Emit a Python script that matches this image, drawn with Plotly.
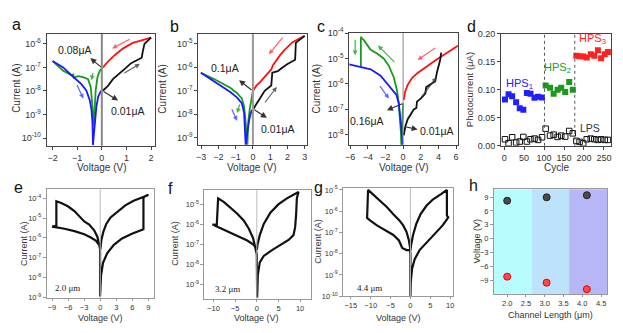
import plotly.graph_objects as go

W, H = 623, 333
FONT = "Liberation Sans, Arial, sans-serif"

# ---------------- data ----------------
# panel a  (V, log10 I)
a_red_V = [0.05, 0.25, 0.52, 0.85, 1.26, 1.66, 2.0]
a_red_logI = [-7.0, -6.75, -6.48, -6.2, -5.96, -5.82, -5.73]
a_blk_V = [0.05, 0.25, 0.45, 0.65, 0.92, 1.19, 1.46, 1.62, 1.66, 1.73, 2.0]
a_blk_logI = [-7.98, -7.78, -7.5, -7.3, -7.07, -6.82, -6.68, -6.59, -6.34, -6.0, -5.73]
a_grn_V = [0.01, -0.09, -0.18, -0.25, -0.29, -0.33, -0.38, -0.45, -0.56, -0.76, -0.96, -1.14, -1.16, -1.23, -1.57, -2.0]
a_grn_logI = [-7.02, -7.16, -7.43, -7.98, -8.8, -9.48, -8.66, -7.84, -7.5, -7.41, -7.37, -7.43, -7.3, -7.33, -7.14, -6.73]
a_blu_V = [-2.0, -1.77, -1.57, -1.3, -1.03, -0.83, -0.63, -0.49, -0.42, -0.38, -0.36, -0.29, -0.22, -0.15, -0.06, 0.05]
a_blu_logI = [-6.73, -6.86, -7.0, -7.27, -7.5, -7.71, -7.98, -8.39, -8.8, -9.35, -10.3, -9.35, -8.66, -8.25, -8.05, -7.95]

# panel b
b_red_V = [0.02, 0.21, 0.4, 0.78, 1.06, 1.16, 1.34, 1.57, 1.82, 2.29, 2.99]
b_red_logI = [-6.98, -6.77, -6.64, -6.32, -6.09, -5.91, -5.72, -5.48, -5.27, -4.93, -4.66]
b_blk_V = [0.02, 0.21, 0.44, 0.68, 1.06, 1.12, 1.44, 1.63, 2.0, 2.44, 2.48, 2.99]
b_blk_logI = [-7.77, -7.53, -7.28, -7.0, -6.77, -6.23, -6.16, -6.05, -5.86, -5.68, -4.96, -4.66]
b_grn_V = [0.0, -0.09, -0.19, -0.27, -0.32, -0.42, -0.51, -0.64, -0.93, -1.31, -1.69, -2.25, -3.01]
b_grn_logI = [-7.0, -7.32, -7.8, -8.34, -9.3, -8.34, -7.66, -7.32, -7.09, -6.87, -6.71, -6.5, -6.23]
b_blu_V = [-3.01, -2.44, -1.88, -1.31, -0.93, -0.64, -0.51, -0.42, -0.32, -0.21, -0.09, 0.0]
b_blu_logI = [-6.23, -6.5, -6.77, -7.05, -7.28, -7.53, -7.94, -9.3, -8.75, -8.21, -7.87, -7.77]

# panel c
c_red_V = [0.07, 0.22, 0.52, 1.01, 1.57, 2.32, 3.07, 4.01, 4.95, 5.7, 6.2]
c_red_logI = [-6.63, -6.32, -6.04, -5.77, -5.59, -5.39, -5.22, -4.99, -4.77, -4.61, -4.5]
c_blk_V = [0.07, 0.26, 0.52, 0.82, 1.2, 1.5, 1.57, 2.02, 2.51, 2.62, 3.15, 3.64, 3.82, 4.09, 4.2, 4.31]
c_blk_logI = [-8.03, -7.67, -7.39, -7.2, -7.01, -6.95, -6.7, -6.57, -6.38, -6.13, -6.0, -5.9, -5.56, -5.24, -5.05, -4.77]
c_grn_V = [0.0, -0.1, -0.2, -0.25, -0.35, -0.5, -0.7, -1.05, -1.6, -2.2, -3.0, -3.7, -4.4, -4.75, -4.78, -4.78]
c_grn_logI = [-6.76, -7.5, -8.4, -7.9, -7.3, -6.75, -6.25, -5.75, -5.3, -5.0, -4.8, -4.65, -4.3, -4.17, -4.2, -5.35]
c_blu_V = [-6.1, -5.0, -3.67, -2.55, -1.61, -1.05, -0.75, -0.49, -0.3, -0.19, -0.07]
c_blu_logI = [-5.23, -5.33, -5.43, -5.68, -6.06, -6.28, -6.44, -6.76, -7.27, -7.77, -8.4]

# panel d
d_hps1_cycle = [2, 11, 20, 30, 39, 48, 57, 66, 76, 85, 95]
d_hps1_uA = [0.083, 0.092, 0.0887, 0.078, 0.067, 0.0645, 0.0945, 0.0933, 0.086, 0.0876, 0.0864]
d_hps2_cycle = [104, 115, 124, 134, 143, 153, 163, 172]
d_hps2_uA = [0.1077, 0.1037, 0.0933, 0.1003, 0.1037, 0.0962, 0.114, 0.1003]
d_hps3_cycle = [181, 189, 198, 207, 217, 226, 235, 243, 252, 260]
d_hps3_uA = [0.1613, 0.160, 0.1596, 0.1579, 0.1637, 0.1613, 0.171, 0.1567, 0.1637, 0.168]
d_lps_cycle = d_hps1_cycle + d_hps2_cycle + d_hps3_cycle
d_lps_uA = [0.0117, 0.0047, 0.0153, 0.0059, 0.0076, 0.0159, 0.0076, 0.0117, 0.0129, 0.0106, 0.0153,
            0.0306, 0.0182, 0.020, 0.0159, 0.0182, 0.0165, 0.0265, 0.0223,
            0.0088, 0.007, 0.0047, 0.0117, 0.0129, 0.0117, 0.0106, 0.0117, 0.0106, 0.0106]
d_dividers = [101, 177]

# panel e
e_V = [0.03, -0.21, -0.83, -1.75, -2.98, -4.82, -6.66, -8.19, -8.99, -8.19, -8.19,
       -7.27, -6.04, -4.82, -3.77, -2.98, -2.06, -1.13, -0.52, -0.09, -0.03, -0.03,
       0.15, 0.52, 1.32, 2.55, 4.08, 5.92, 7.15, 8.07, 8.07, 8.25, 9.0,
       7.76, 6.23, 4.69, 3.16, 1.93, 1.13, 0.58, 0.21, 0.03]
e_logI = [-6.56, -6.35, -6.14, -5.98, -5.82, -5.66, -5.54, -5.46, -5.43, -5.4, -4.16,
          -4.24, -4.41, -4.65, -4.97, -5.17, -5.33, -5.62, -5.95, -6.44, -6.56, -8.95,
          -7.9, -7.25, -6.76, -6.35, -6.03, -5.79, -5.67, -5.57, -4.0, -3.92, -3.84,
          -3.97, -4.13, -4.36, -4.68, -4.97, -5.3, -5.7, -6.11, -6.56]

# panel f
f_V = [0.0, -0.69, -2.21, -4.12, -6.41, -8.32, -9.47, -10.23, -9.24, -8.93,
       -7.56, -6.03, -4.5, -2.98, -1.83, -0.84, -0.23, 0.0, 0.08,
       0.23, 0.69, 1.6, 3.51, 5.42, 7.33, 8.47, 8.85, 9.08, 9.24, 9.62,
       8.47, 6.95, 5.04, 3.13, 1.6, 0.69, 0.23, 0.0]
f_logI = [-7.3, -7.03, -6.82, -6.63, -6.39, -6.18, -6.07, -6.02, -6.04, -4.71,
          -4.9, -5.19, -5.48, -5.83, -6.23, -6.71, -7.19, -7.51, -9.67,
          -8.55, -7.91, -7.59, -7.3, -7.03, -6.79, -6.55, -6.15, -5.51, -4.71, -4.39,
          -4.52, -4.71, -5.0, -5.43, -5.99, -6.55, -6.95, -7.3]

# panel g
g_V = [0.0, -0.99, -2.07, -2.89, -4.3, -6.36, -8.43, -10.08, -10.9, -10.66,
       -9.26, -7.6, -5.95, -4.3, -2.89, -1.82, -0.99, -0.41, -0.08, 0.0, 0.0,
       0.08, 0.41, 1.07, 2.31, 3.97, 6.03, 8.1, 9.09, 9.5, 9.17, 9.17,
       7.69, 5.62, 3.97, 2.56, 1.49, 0.66, 0.17, 0.0]
g_logI = [-7.83, -7.83, -7.73, -7.38, -7.12, -6.89, -6.67, -6.44, -6.32, -5.0,
          -5.23, -5.5, -5.8, -6.14, -6.41, -6.67, -6.97, -7.35, -7.73, -8.1, -10.0,
          -9.32, -8.71, -8.26, -7.83, -7.5, -7.12, -6.67, -6.41, -6.29, -6.2, -5.0,
          -5.2, -5.45, -5.76, -6.14, -6.59, -7.12, -7.58, -7.83]

# panel h
h_len = [2.0, 3.05, 4.12]
h_set_V = [8.2, 8.95, 9.4]
h_reset_V = [-8.2, -9.5, -10.9]
h_band_edges = [1.65, 2.65, 3.65, 4.66]
h_band_colors = ["#b8fdfd", "#bce3fb", "#b7b7f7"]

# tick labels
log_tickvals = [1e-10, 1e-9, 1e-8, 1e-7, 1e-6, 1e-5, 1e-4, 1e-3]
log_ticktext = ["10<sup>-10</sup>", "10<sup>-9</sup>", "10<sup>-8</sup>", "10<sup>-7</sup>",
                "10<sup>-6</sup>", "10<sup>-5</sup>", "10<sup>-4</sup>", "10<sup>-3</sup>"]


def pw(v):
    return [10 ** x for x in v]


# ---------------- layout helpers ----------------
def dx(l, r):
    return [l / W, r / W]


def dy(t, b):
    return [1 - b / H, 1 - t / H]


def px(x, y):
    return x / W, 1 - y / H


fig = go.Figure()

boxes = {
    1: (43, 152, 28, 144),
    2: (196, 305, 28, 143),
    3: (348, 458, 27, 143),
    4: (501, 612, 28, 144),
    5: (43, 151, 189, 302),
    6: (202, 309, 190, 303),
    7: (342, 453, 188, 300),
    8: (494, 608, 189, 298),
}
xranges = {1: [-2.24, 2.15], 2: [-3.15, 3.1], 3: [-6.1, 6.25], 4: [-8, 268],
           5: [-10, 10], 6: [-12.1, 12.4], 7: [-16.9, 10.8], 8: [1.65, 4.66]}
yranges = {1: [-10.33, -5.58], 2: [-9.3, -4.58], 3: [-8.4, -4.0], 4: [0, 0.2],
           5: [-9.03, -3.55], 6: [-9.75, -4.3], 7: [-10, -4.92], 8: [-12, 10.7]}
xticks = {1: [-2, -1, 0, 1, 2], 2: [-3, -2, -1, 0, 1, 2, 3], 3: [-6, -4, -2, 0, 2, 4, 6],
          4: [0, 50, 100, 150, 200, 250], 5: [-9, -6, -3, 0, 3, 6, 9], 6: [-10, -5, 0, 5, 10],
          7: [-15, -10, -5, 0, 5, 10], 8: [2.0, 2.5, 3.0, 3.5, 4.0, 4.5]}

lay = {}
for i in range(1, 9):
    l, r, t, b = boxes[i]
    xs = "" if i == 1 else str(i)
    top = i <= 4
    fs = 9 if top else 7.5
    lc = "#444" if top else "#999"
    xa = dict(domain=dx(l, r), anchor="y" + xs, range=xranges[i], tickvals=xticks[i],
              showline=True, mirror=True, linecolor=lc, linewidth=1, ticks="outside",
              ticklen=3 if top else 2, tickcolor=lc, showgrid=False, zeroline=False,
              tickfont=dict(size=fs, color="#333", family=FONT))
    if i == 8:
        xa["ticktext"] = ["2.0", "2.5", "3.0", "3.5", "4.0", "4.5"]
    ya = dict(domain=dy(t, b), anchor="x" + xs, range=yranges[i], showline=True, mirror=True,
              linecolor=lc, linewidth=1, ticks="outside", ticklen=3, tickcolor=lc,
              showgrid=False, zeroline=False, tickfont=dict(size=fs, color="#333", family=FONT))
    if i in (4, 8):
        ya["type"] = "linear"
        if i == 4:
            ya["tickvals"] = [0, 0.05, 0.1, 0.15, 0.2]
            ya["ticktext"] = ["0.00", "0.05", "0.10", "0.15", "0.20"]
        else:
            ya["tickvals"] = [-9, -6, -3, 0, 3, 6, 9]
    else:
        ya["type"] = "log"
        ya["tickvals"] = log_tickvals
        ya["ticktext"] = log_ticktext
    lay["xaxis" + xs] = xa
    lay["yaxis" + xs] = ya

fig.update_layout(**lay)

RED, BLK, GRN, BLU = "#ff1010", "#111111", "#1a9a1a", "#1a1aff"


def line(xs_, ys_, color, ax, width=1.8):
    fig.add_trace(go.Scatter(x=xs_, y=pw(ys_), mode="lines", line=dict(color=color, width=width),
                             xaxis="x" + ax, yaxis="y" + ax, showlegend=False, hoverinfo="skip"))


# V=0 reference lines
for ax, col, w in (("", "#888", 2), ("2", "#999", 2), ("3", "#888", 1), ("5", "#bbb", 1),
                   ("6", "#bbb", 1), ("7", "#bbb", 1)):
    fig.add_shape(type="line", xref="x" + ax, yref="y" + ax + " domain", x0=0, x1=0, y0=0, y1=1,
                  line=dict(color=col, width=w))

# a
line(a_red_V, a_red_logI, RED, "")
line(a_blk_V, a_blk_logI, BLK, "")
line(a_grn_V, a_grn_logI, GRN, "")
line(a_blu_V, a_blu_logI, BLU, "")
# b
line(b_red_V, b_red_logI, RED, "2")
line(b_blk_V, b_blk_logI, BLK, "2")
line(b_grn_V, b_grn_logI, GRN, "2")
line(b_blu_V, b_blu_logI, BLU, "2")
# c
line(c_red_V, c_red_logI, RED, "3")
line(c_blk_V, c_blk_logI, BLK, "3")
line(c_grn_V, c_grn_logI, GRN, "3")
line(c_blu_V, c_blu_logI, BLU, "3")
# e f g
line(e_V, e_logI, BLK, "5", 2.2)
line(f_V, f_logI, BLK, "6", 2.2)
line(g_V, g_logI, BLK, "7", 2.2)

# d
for xv in d_dividers:
    fig.add_shape(type="line", xref="x4", yref="y4 domain", x0=xv, x1=xv, y0=0, y1=1,
                  line=dict(color="#555", width=1, dash="dot"))
for xs_, ys_, col in ((d_hps1_cycle, d_hps1_uA, "#2020ff"), (d_hps2_cycle, d_hps2_uA, "#1a9a1a"),
                      (d_hps3_cycle, d_hps3_uA, "#ff2020")):
    fig.add_trace(go.Scatter(x=xs_, y=ys_, mode="markers", xaxis="x4", yaxis="y4",
                             marker=dict(symbol="square", size=6, color=col), showlegend=False))
fig.add_trace(go.Scatter(x=d_lps_cycle, y=d_lps_uA, mode="markers", xaxis="x4", yaxis="y4",
                         marker=dict(symbol="square-open", size=5.5, color="#111",
                                     line=dict(width=1)), showlegend=False))

# h
for k in range(3):
    fig.add_shape(type="rect", xref="x8", yref="y8 domain", x0=h_band_edges[k], x1=h_band_edges[k + 1],
                  y0=0, y1=1, fillcolor=h_band_colors[k], line=dict(width=0), layer="below")
fig.add_trace(go.Scatter(x=h_len, y=h_set_V, mode="markers", xaxis="x8", yaxis="y8",
                         marker=dict(size=7, color="#4a4a4a", line=dict(color="#222", width=1)),
                         showlegend=False))
fig.add_trace(go.Scatter(x=h_len, y=h_reset_V, mode="markers", xaxis="x8", yaxis="y8",
                         marker=dict(size=7, color="#ff4848", line=dict(color="#d00", width=1)),
                         showlegend=False))

ann = []


def text(x, y, s, size=10, color="#222", angle=0, family=FONT, **kw):
    X, Y = px(x, y)
    d = dict(x=X, y=Y, xref="paper", yref="paper", text=s, showarrow=False, textangle=angle,
             font=dict(size=size, color=color, family=family), xanchor="center", yanchor="middle")
    d.update(kw)
    ann.append(d)


def arrow(tail, head, color, width=1.2, size=1.0):
    hx, hy = px(*head)
    ann.append(dict(x=hx, y=hy, ax=tail[0] - head[0], ay=tail[1] - head[1], xref="paper",
                    yref="paper", text="", showarrow=True, arrowhead=2, arrowsize=size,
                    arrowwidth=width, arrowcolor=color))


# panel letters
for s, x, y in (("a", 13, 18), ("b", 172, 20), ("c", 320, 20), ("d", 471, 20),
                ("e", 15, 187), ("f", 168, 188), ("g", 317, 187), ("h", 473, 185)):
    text(x, y, s, size=16, color="#111")

# axis titles
for x, y in ((13, 84), (160, 85), (315, 85)):
    text(x, y, "Current (A)", size=10, color="#333", angle=-90)
text(470, 86, "Photocurrent (μA)", size=9.5, color="#333", angle=-90)
for x in (98, 250, 403):
    text(x, 166, "Voltage (V)", size=10, color="#333")
text(557, 166, "Cycle", size=10, color="#333")
for x, y in ((20, 245), (173, 245), (317, 243)):
    text(x, y, "Current (A)", size=9, color="#333", angle=-90)
text(477, 243, "Voltage (V)", size=9, color="#333", angle=-90)
for x in (97, 255, 398):
    text(x, 323, "Voltage (V)", size=9, color="#333")
text(551, 320, "Channel Length (μm)", size=9, color="#333")

# value labels
text(72, 45, "0.08μA", size=10.5)
text(125, 108, "0.01μA", size=10.5)
text(223, 63, "0.1μA", size=10.5)
text(276, 127, "0.01μA", size=10.5)
text(366, 118, "0.16μA", size=10.5)
text(436, 129, "0.01μA", size=10.5)
SER = "Liberation Serif, Times New Roman, serif"
text(64, 292, "2.0 μm", size=9, family=SER)
text(225, 293, "3.2 μm", size=9, family=SER)
text(368, 292, "4.4 μm", size=9, family=SER)

# HPS labels
text(520, 80, "HPS<sub>1</sub>", size=11, color="#2020ff")
text(558, 63, "HPS<sub>2</sub>", size=11, color="#1a9a1a")
text(593, 33, "HPS<sub>3</sub>", size=11, color="#ff2020")
text(591, 126, "LPS", size=10.5, color="#333")

# pointer arrows
DG = "#333"
arrow((99, 63), (87, 53), DG)
arrow((99, 87), (115, 97), DG)
arrow((251, 87), (237, 76), DG)
arrow((251, 106), (265, 115), DG)
arrow((403, 100), (386, 107), DG)
arrow((403, 124), (417, 127), DG)
# direction arrows
LR, LK, LG, LB = "rgba(255,60,60,0.8)", "rgba(60,60,60,0.8)", "rgba(30,160,30,0.8)", "rgba(60,60,255,0.8)"
arrow((128, 33), (109, 43), LR, 1.2, 0.8)
arrow((120, 69), (137, 59), LK, 1.2, 0.8)
arrow((90, 67), (88, 76), LG, 1.2, 0.8)
arrow((73, 80), (80, 95), LB, 1.2, 0.8)
arrow((282, 31), (267, 49), LR, 1.2, 0.8)
arrow((262, 100), (275, 83), LK, 1.2, 0.8)
arrow((238, 100), (235, 110), LG, 1.2, 0.8)
arrow((229, 105), (235, 118), LB, 1.2, 0.8)
arrow((436, 42), (417, 55), LR, 1.2, 0.8)
arrow((420, 94), (436, 73), LK, 1.2, 0.8)
arrow((395, 58), (377, 40), LG, 1.2, 0.8)
arrow((354, 33), (354, 50), LG, 1.2, 0.8)
arrow((378, 81), (388, 95), LB, 1.2, 0.8)

fig.update_layout(width=W, height=H, margin=dict(l=0, r=0, t=0, b=0), paper_bgcolor="white",
                  plot_bgcolor="white", annotations=ann, showlegend=False,
                  font=dict(family=FONT))
fig.write_html("out.html")
